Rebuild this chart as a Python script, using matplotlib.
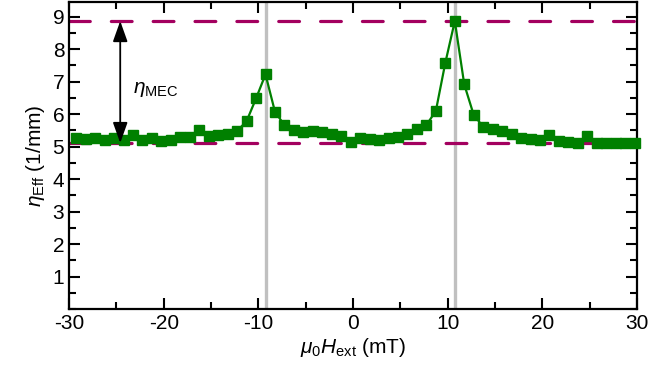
import matplotlib
matplotlib.use("Agg")
import matplotlib.pyplot as plt
from matplotlib.ticker import MultipleLocator

plt.rcParams['font.family'] = ['Liberation Sans', 'DejaVu Sans']
plt.rcParams['mathtext.fontset'] = 'custom'
plt.rcParams['mathtext.rm'] = 'Liberation Sans'
plt.rcParams['mathtext.it'] = 'Liberation Sans:italic'
plt.rcParams['axes.unicode_minus'] = False

# field values (mT) and effective damping (1/mm)
field = [-29.25, -28.25, -27.25, -26.25, -25.25, -24.25, -23.25, -22.25, -21.25, -20.25,
         -19.25, -18.25, -17.25, -16.25, -15.25, -14.25, -13.25, -12.25, -11.25, -10.25,
         -9.25, -8.25, -7.25, -6.25, -5.25, -4.25, -3.25, -2.25, -1.25, -0.25,
         0.75, 1.75, 2.75, 3.75, 4.75, 5.75, 6.75, 7.75, 8.75, 9.75,
         10.75, 11.75, 12.75, 13.75, 14.75, 15.75, 16.75, 17.75, 18.75, 19.75,
         20.75, 21.75, 22.75, 23.75, 24.75, 25.75, 26.75, 27.75, 28.75, 29.75]
eta_eff = [5.25, 5.22, 5.25, 5.2, 5.25, 5.2, 5.35, 5.2, 5.25, 5.18,
           5.2, 5.28, 5.3, 5.5, 5.32, 5.35, 5.4, 5.48, 5.78, 6.48,
           7.22, 6.07, 5.66, 5.5, 5.46, 5.48, 5.45, 5.38, 5.32, 5.15,
           5.25, 5.22, 5.2, 5.25, 5.3, 5.38, 5.54, 5.66, 6.1, 7.58,
           8.86, 6.91, 5.97, 5.61, 5.54, 5.48, 5.4, 5.26, 5.22, 5.2,
           5.35, 5.18, 5.15, 5.12, 5.32, 5.1, 5.1, 5.1, 5.1, 5.1]

eta_min = 5.11
eta_max = 8.86
resonances = [-9.2, 10.8]
arrow_x = -24.6

fig = plt.figure(figsize=(6.52, 3.77), dpi=100)
ax = fig.add_axes([0.106, 0.180, 0.871, 0.815])

for xr in resonances:
    ax.axvline(xr, color='#c0c0c0', lw=2.4, zorder=1)

for yl in (eta_min, eta_max):
    ax.axhline(yl, color='#a3005f', lw=2.3, dashes=(6.5, 6.6),
               dash_capstyle='round', zorder=2)

ax.plot(field, eta_eff, color='#008000', lw=1.6, marker='s', ms=7.8,
        mec='#008000', mfc='#008000', zorder=3, clip_on=False)

ax.annotate('', xy=(arrow_x, eta_min), xytext=(arrow_x, eta_max),
            arrowprops=dict(arrowstyle='<|-|>,head_length=0.7,head_width=0.25',
                            color='black', lw=1.3,
                            mutation_scale=18, shrinkA=0, shrinkB=0), zorder=4)
ax.text(arrow_x + 1.4, 6.75, r'$\eta_{\mathrm{MEC}}$', fontsize=15,
        va='center', ha='left')

ax.set_xlim(-30, 30)
ax.set_ylim(0, 9.45)
ax.xaxis.set_major_locator(MultipleLocator(10))
ax.xaxis.set_minor_locator(MultipleLocator(5))
ax.set_yticks([1, 2, 3, 4, 5, 6, 7, 8, 9])
ax.yaxis.set_minor_locator(MultipleLocator(0.5))
ax.tick_params(which='both', direction='in', top=True, right=True,
               width=1.5, labelsize=15)
ax.tick_params(which='major', length=8)
ax.tick_params(which='minor', length=5)
for s in ax.spines.values():
    s.set_linewidth(1.6)

ax.set_xlabel(r'$\mu_0H_{\mathrm{ext}}$ (mT)', fontsize=15, labelpad=2)
ax.set_ylabel(r'$\eta_{\mathrm{Eff}}$ (1/mm)', fontsize=15, labelpad=4)

fig.savefig('out.png', dpi=100)
